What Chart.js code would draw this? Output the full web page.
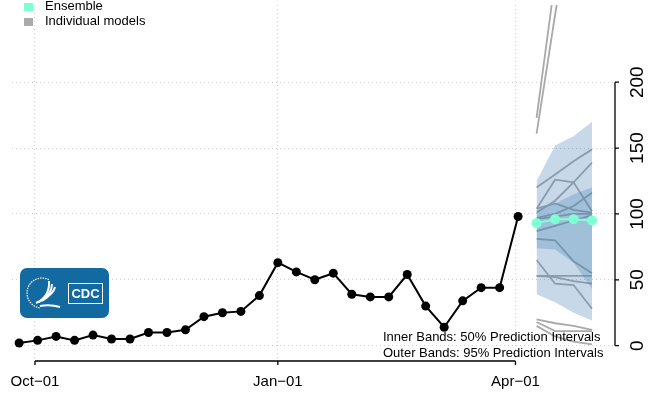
<!DOCTYPE html>
<html>
<head>
<meta charset="utf-8">
<title>Forecast</title>
<script src="https://cdn.jsdelivr.net/npm/chart.js@4.4.1/dist/chart.umd.min.js"></script>
<style>
  html, body { margin: 0; padding: 0; background: #fff; }
  canvas { display: block; }
</style>
</head>
<body>
<canvas id="myChart" width="654" height="393"></canvas>
<script>
'use strict';

// DATA
let observedDates = [
  '2022-09-25', '2022-10-02', '2022-10-09', '2022-10-16', '2022-10-23', '2022-10-30',
  '2022-11-06', '2022-11-13', '2022-11-20', '2022-11-27', '2022-12-04', '2022-12-11',
  '2022-12-18', '2022-12-25', '2023-01-01', '2023-01-08', '2023-01-15', '2023-01-22',
  '2023-01-29', '2023-02-05', '2023-02-12', '2023-02-19', '2023-02-26', '2023-03-05',
  '2023-03-12', '2023-03-19', '2023-03-26', '2023-04-02'
];
let observedValues = [2, 4, 7, 4, 8, 5, 5, 10, 10, 12, 22, 25, 26, 38, 63, 56, 50, 55, 39, 37, 37, 54, 30, 14, 34, 44, 44, 98];

let forecastDates = ['2023-04-09', '2023-04-16', '2023-04-23', '2023-04-30'];
let ensembleValues = [93, 96, 96, 95];
let outerUpper = [125, 152, 159, 170];
let outerLower = [39, 33, 25, 19];
let innerUpper = [103, 108, 115, 120];
let innerLower = [74, 73, 63, 43];

let individualModels = [
  [120, 130, 140, 149],
  [104, 126, 124, 102],
  [101, 110, 124, 139],
  [97, 100, 106, 116],
  [104, 108, 103, 101],
  [96, 98, 100, 100],
  [87, 91, 95, 99],
  [81, 80, 64, 55],
  [65, 47, 46, 28],
  [53, 53, 53, 53],
  [53, 52, 49, 47],
  [20, 17, 15, 12],
  [18, 11, 11, 11],
  [15, 7, 3, 1],
  [173, 278, 380, 480],
  [161, 251, 340, 430]
];

let xTickDates = ['2022-10-01', '2023-01-01', '2023-04-01'];
let xTickLabels = ['Oct\u221201', 'Jan\u221201', 'Apr\u221201'];
let yTicks = [0, 50, 100, 150, 200];

let legendLabels = ['Ensemble', 'Individual models'];
let noteLines = ['Inner Bands: 50% Prediction Intervals', 'Outer Bands: 95% Prediction Intervals'];

// STYLE
const FONT = '"Liberation Sans", Arial, Helvetica, sans-serif';
const AQUA = '#7fffd4';
const MODEL_GRAY = '#a9a9a9';
const BAND = 'rgba(70,130,180,0.3)';
const CLEAR = 'rgba(0,0,0,0)';

// FUNCTIONS
function dayNumber(dateString) {
  return (Date.parse(dateString) - Date.parse('2022-10-01')) / 86400000;
}

function toPoints(dates, values) {
  return dates.map((d, i) => ({ x: dayNumber(d), y: values[i] }));
}

function drawLogo(ctx) {
  ctx.save();
  ctx.fillStyle = '#136aa0';
  ctx.beginPath();
  ctx.roundRect(20, 268, 89, 50, 7);
  ctx.fill();

  // hhs seal
  ctx.strokeStyle = '#fff';
  ctx.lineWidth = 1.2;
  ctx.setLineDash([1.5, 1]);
  ctx.beginPath();
  ctx.arc(42, 293, 15, Math.PI * 0.55, Math.PI * 1.65);
  ctx.stroke();
  ctx.setLineDash([]);
  ctx.lineWidth = 2;
  for (let i = 0; i < 3; i++) {
    ctx.beginPath();
    ctx.moveTo(36 + i * 3, 303 - i);
    ctx.quadraticCurveTo(50 + i * 2, 297 - i * 2, 49 + i * 3, 281 + i * 3);
    ctx.stroke();
  }
  ctx.beginPath();
  ctx.moveTo(40, 306);
  ctx.quadraticCurveTo(50, 304, 60, 307);
  ctx.stroke();

  // cdc box
  ctx.lineWidth = 1;
  ctx.strokeRect(68.5, 283.5, 34, 20);
  ctx.fillStyle = '#fff';
  ctx.font = 'bold 13px ' + FONT;
  ctx.textAlign = 'center';
  ctx.textBaseline = 'middle';
  ctx.fillText('CDC', 85.5, 294);
  ctx.restore();
}

// plugin: logo behind the marks, R style axes / legend / notes on top
const decorations = {
  id: 'decorations',
  beforeDatasetsDraw(chart) {
    drawLogo(chart.ctx);
  },
  afterDraw(chart) {
    let ctx = chart.ctx;
    let x = chart.scales.x;
    let y = chart.scales.y;
    let area = chart.chartArea;
    ctx.save();
    ctx.strokeStyle = '#000';
    ctx.fillStyle = '#000';
    ctx.lineWidth = 1.3;

    // bottom axis
    let axisY = area.bottom + 1;
    let xs = xTickDates.map(d => x.getPixelForValue(dayNumber(d)));
    ctx.beginPath();
    ctx.moveTo(xs[0], axisY);
    ctx.lineTo(xs[xs.length - 1], axisY);
    xs.forEach(px => {
      ctx.moveTo(px, axisY);
      ctx.lineTo(px, axisY + 4);
    });
    ctx.stroke();
    ctx.font = '15px ' + FONT;
    ctx.textAlign = 'center';
    ctx.textBaseline = 'middle';
    xs.forEach((px, i) => ctx.fillText(xTickLabels[i], px, 382));

    // right axis
    let axisX = area.right;
    let ys = yTicks.map(v => y.getPixelForValue(v));
    ctx.beginPath();
    ctx.moveTo(axisX, ys[0]);
    ctx.lineTo(axisX, ys[ys.length - 1]);
    ys.forEach(py => {
      ctx.moveTo(axisX, py);
      ctx.lineTo(axisX + 4, py);
    });
    ctx.stroke();
    ctx.font = '19px ' + FONT;
    ys.forEach((py, i) => {
      ctx.save();
      ctx.translate(638, py);
      ctx.rotate(-Math.PI / 2);
      ctx.fillText(String(yTicks[i]), 0, 0);
      ctx.restore();
    });

    // legend
    ctx.font = '13px ' + FONT;
    ctx.textAlign = 'left';
    ctx.fillStyle = AQUA;
    ctx.fillRect(24, 3, 9, 8);
    ctx.fillStyle = '#aaaaaa';
    ctx.fillRect(24, 18, 9, 8);
    ctx.fillStyle = '#000';
    ctx.fillText(legendLabels[0], 45, 6.5);
    ctx.fillText(legendLabels[1], 45, 21.5);

    // notes
    ctx.textBaseline = 'alphabetic';
    ctx.fillText(noteLines[0], 383, 341);
    ctx.fillText(noteLines[1], 383, 357);
    ctx.restore();
  }
};

// DATASETS
let datasets = [];
datasets.push({
  label: 'Ensemble',
  data: toPoints(forecastDates, ensembleValues),
  borderColor: AQUA,
  backgroundColor: AQUA,
  borderWidth: 2,
  pointRadius: 5,
  pointBorderWidth: 0,
  order: 0
});
datasets.push({
  label: 'Observed',
  data: toPoints(observedDates, observedValues),
  borderColor: '#000',
  backgroundColor: '#000',
  borderWidth: 2,
  pointRadius: 4.5,
  pointBorderWidth: 0,
  order: 1
});
// bands: upper edge fills down to the next dataset
datasets.push({ data: toPoints(forecastDates, innerUpper), fill: '+1', backgroundColor: BAND, borderColor: CLEAR, borderWidth: 0, pointRadius: 0, order: 2 });
datasets.push({ data: toPoints(forecastDates, innerLower), fill: false, borderColor: CLEAR, borderWidth: 0, pointRadius: 0, order: 2 });
datasets.push({ data: toPoints(forecastDates, outerUpper), fill: '+1', backgroundColor: BAND, borderColor: CLEAR, borderWidth: 0, pointRadius: 0, order: 3 });
datasets.push({ data: toPoints(forecastDates, outerLower), fill: false, borderColor: CLEAR, borderWidth: 0, pointRadius: 0, order: 3 });

for (let i = 0; i < individualModels.length; i++) {
  datasets.push({
    label: 'Individual models',
    data: toPoints(forecastDates, individualModels[i]),
    borderColor: MODEL_GRAY,
    borderWidth: 1.8,
    pointRadius: 0,
    fill: false,
    order: 4
  });
}

const gridOpts = { color: '#cfcfcf', lineWidth: 1, drawTicks: false };

const config = {
  type: 'line',
  data: { datasets: datasets },
  options: {
    responsive: false,
    animation: false,
    layout: { padding: { left: 12, right: 39, top: 0, bottom: 33 } },
    plugins: {
      legend: { display: false },
      tooltip: { enabled: false }
    },
    scales: {
      x: {
        type: 'linear',
        min: -8.7,
        max: 219.7,
        afterBuildTicks: scale => {
          scale.ticks = xTickDates.map(d => ({ value: dayNumber(d) }));
        },
        ticks: { display: false },
        grid: gridOpts,
        border: { display: false, dash: [1, 3] }
      },
      y: {
        type: 'linear',
        position: 'right',
        min: -10.9,
        max: 258.6,
        afterBuildTicks: scale => {
          scale.ticks = yTicks.map(v => ({ value: v }));
        },
        ticks: { display: false },
        grid: gridOpts,
        border: { display: false, dash: [1, 3] }
      }
    }
  },
  plugins: [decorations]
};

const myChart = new Chart(document.getElementById('myChart'), config);
</script>
</body>
</html>
